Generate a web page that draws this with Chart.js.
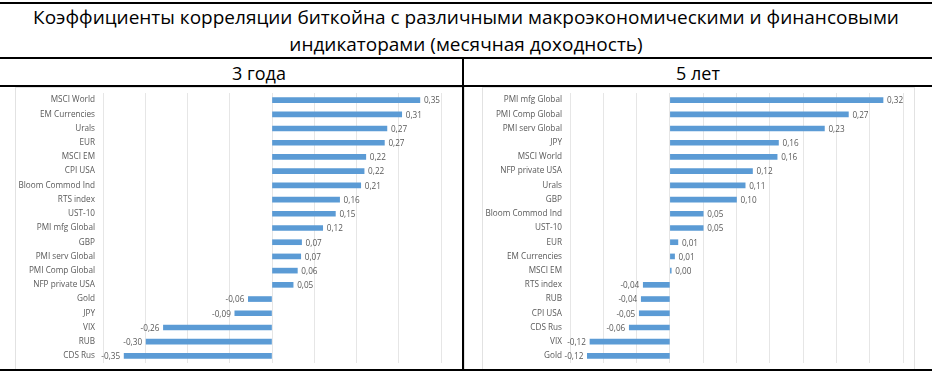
<!DOCTYPE html>
<html>
<head>
<meta charset="utf-8">
<script src="https://cdn.jsdelivr.net/npm/chart.js@4/dist/chart.umd.min.js"></script>
<style>
  body { margin: 0; background: #fff; width: 934px; height: 374px; position: relative; overflow: hidden; font-family: 'Open Sans', sans-serif; }
  .hline { position: absolute; left: 0; width: 932px; height: 2px; background: #000; }
  .vline { position: absolute; width: 2px; background: #000; }
  .title { position: absolute; left: 0; width: 932px; text-align: center; font-size: 19px; color: #000; line-height: 27px; top: 4px; }
  .head { position: absolute; top: 60px; height: 26px; line-height: 26px; text-align: center; font-size: 18px; color: #000; }
  .box { position: absolute; border: 1px solid #e2e2e2; }
  canvas { position: absolute; }
</style>
</head>
<body>
<div class="title">Коэффициенты корреляции биткойна с различными макроэкономическими и финансовыми<br>индикаторами (месячная доходность)</div>
<div class="head" style="left:55px;width:408px">3 года</div>
<div class="head" style="left:464px;width:468px">5 лет</div>
<div class="box" style="left:15px;top:87px;width:448px;height:281px"></div>
<div class="box" style="left:482px;top:87px;width:431px;height:281px"></div>
<div class="hline" style="top:2px"></div>
<div class="hline" style="top:57px"></div>
<div class="hline" style="top:85px"></div>
<div class="hline" style="top:369px"></div>
<div class="vline" style="left:462px;top:57px;height:314px"></div>
<div style="position:absolute;left:0;top:88px;width:462px;height:281px"><canvas id="c3"></canvas></div>
<div style="position:absolute;left:464px;top:88px;width:470px;height:281px"><canvas id="c5"></canvas></div>
<script>
const LABELS_3Y = ['MSCI World', 'EM Currencies', 'Urals', 'EUR', 'MSCI EM', 'CPI USA', 'Bloom Commod Ind',
  'RTS index', 'UST-10', 'PMI mfg Global', 'GBP', 'PMI serv Global', 'PMI Comp Global', 'NFP private USA',
  'Gold', 'JPY', 'VIX', 'RUB', 'CDS Rus'];
const VALUES_3Y = [0.35, 0.307, 0.272, 0.266, 0.222, 0.218, 0.21, 0.16, 0.15, 0.12, 0.07, 0.068, 0.06, 0.05,
  -0.056, -0.088, -0.257, -0.298, -0.35];

const LABELS_5Y = ['PMI mfg Global', 'PMI Comp Global', 'PMI serv Global', 'JPY', 'MSCI World', 'NFP private USA',
  'Urals', 'GBP', 'Bloom Commod Ind', 'UST-10', 'EUR', 'EM Currencies', 'MSCI EM', 'RTS index', 'RUB',
  'CPI USA', 'CDS Rus', 'VIX', 'Gold'];
const VALUES_5Y = [0.32, 0.268, 0.232, 0.163, 0.161, 0.124, 0.113, 0.1, 0.05, 0.05, 0.012, 0.007, 0.002,
  -0.04, -0.043, -0.046, -0.061, -0.12, -0.124];

const BAR_COLOR = '#5b9bd5';
const TEXT_COLOR = '#595959';
const GRID_COLOR = '#e6e6e6';

// value labels at bar ends, comma decimal like the original
const valueLabels = {
  id: 'valueLabels',
  afterDatasetsDraw(chart) {
    const ctx = chart.ctx;
    const meta = chart.getDatasetMeta(0);
    const data = chart.data.datasets[0].data;
    ctx.save();
    ctx.font = '8.2px "Open Sans"';
    ctx.fillStyle = TEXT_COLOR;
    ctx.textBaseline = 'middle';
    meta.data.forEach((bar, i) => {
      const txt = data[i].toFixed(2).replace('.', ',');
      if (data[i] >= 0) {
        ctx.textAlign = 'left';
        ctx.fillText(txt, bar.x + 4, bar.y + 1);
      } else {
        ctx.textAlign = 'right';
        ctx.fillText(txt, bar.x - 4, bar.y + 1);
      }
    });
    ctx.restore();
  }
};

function addCorrChart(id, labels, values, min, max, step, axisWidth, padRight) {
  const ctx = document.getElementById(id);
  return new Chart(ctx, {
    type: 'bar',
    data: {
      labels: labels,
      datasets: [{
        data: values,
        backgroundColor: BAR_COLOR,
        barThickness: 5
      }]
    },
    options: {
      indexAxis: 'y',
      responsive: true,
      maintainAspectRatio: false,
      animation: false,
      layout: { padding: { top: 5, bottom: 6, right: padRight, left: 0 } },
      plugins: { legend: { display: false }, tooltip: { enabled: false } },
      scales: {
        x: {
          min: min,
          max: max,
          ticks: { display: false, stepSize: step },
          grid: { color: GRID_COLOR, drawTicks: false },
          border: { display: false },
          afterFit: (s) => { s.height = 0; s.paddingLeft = 0; s.paddingRight = 0; }
        },
        y: {
          ticks: { color: TEXT_COLOR, font: { family: 'Open Sans', size: 8.2 }, padding: 8, autoSkip: false },
          grid: { display: false, drawTicks: false },
          border: { display: false },
          afterFit: (s) => { s.width = axisWidth; s.paddingTop = 0; s.paddingBottom = 0; }
        }
      }
    },
    plugins: [valueLabels]
  });
}

addCorrChart('c3', LABELS_3Y, VALUES_3Y, -0.4, 0.4, 0.1, 103, 21);
addCorrChart('c5', LABELS_5Y, VALUES_5Y, -0.15, 0.35, 0.05, 106, 31);
</script>
</body>
</html>
